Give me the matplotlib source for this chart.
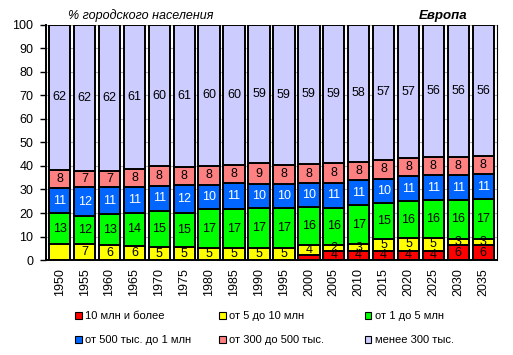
import numpy as np
import matplotlib
matplotlib.use('Agg')
import matplotlib.pyplot as plt
from matplotlib.patches import Rectangle

plt.rcParams['font.family'] = ['Liberation Sans', 'DejaVu Sans']

years = ['1950', '1955', '1960', '1965', '1970', '1975', '1980', '1985', '1990',
         '1995', '2000', '2005', '2010', '2015', '2020', '2025', '2030', '2035']

# доли городского населения по размеру городов, %
s10m = [0, 0, 0, 0, 0, 0, 0, 0, 0, 0, 2.0, 4.0, 3.9, 4.0, 4.0, 4.0, 6.2, 6.2]
s5_10 = [6.9, 6.7, 6.2, 5.8, 5.4, 5.4, 5.1, 5.1, 5.1, 5.1, 4.2, 2.4, 2.8, 4.8, 5.2, 5.2, 2.9, 2.9]
s1_5 = [13.0, 12.0, 13.4, 14.4, 15.3, 14.8, 16.6, 16.6, 17.0, 17.0, 16.2, 15.8, 16.6, 15.3, 15.8, 16.2, 16.4, 16.7]
s500_1 = [10.6, 12.2, 11.3, 10.7, 11.0, 11.6, 10.4, 10.9, 10.1, 10.1, 10.2, 10.6, 10.6, 10.4, 10.6, 10.6, 10.7, 10.8]
s300_500 = [7.9, 6.8, 7.1, 7.7, 8.2, 7.6, 7.9, 7.7, 8.9, 8.4, 8.4, 8.4, 7.9, 8.2, 7.6, 7.7, 7.8, 7.6]
s_less300 = [61.6, 62.3, 62.0, 61.4, 60.1, 60.6, 60.0, 59.7, 58.9, 59.4, 59.0, 58.8, 58.2, 57.3, 56.8, 56.3, 56.0, 55.8]

series = [s10m, s5_10, s1_5, s500_1, s300_500, s_less300]
names = ['10 млн и более', 'от 5 до 10 млн', 'от 1 до 5 млн',
         'от 500 тыс. до 1 млн', 'от 300 до 500 тыс.', 'менее 300 тыс.']
colors = ['#FF0000', '#FFFF00', '#00FF00', '#0066FF', '#FF8080', '#CCCCFF']
txt_colors = ['black', 'black', 'black', 'white', 'black', 'black']
hidden = {(1, 0), (0, 10)}  # подписи, которых нет на исходном рисунке

fig = plt.figure(figsize=(5.13, 3.55), dpi=100)
ax = fig.add_axes([0.0897, 0.2676, 0.879, 0.662])

x = np.arange(len(years))
bottom = np.zeros(len(years))
for i, s in enumerate(series):
    s = np.array(s)
    ax.bar(x, s, 0.86, bottom=bottom, color=colors[i], edgecolor='black',
           linewidth=1.4, zorder=3)
    for j in range(len(years)):
        if s[j] > 0 and (i, j) not in hidden:
            ax.text(x[j], bottom[j] + s[j] / 2, str(int(round(s[j]))),
                    ha='center', va='center', fontsize=9,
                    color=txt_colors[i], zorder=4)
    bottom += s

ax.set_xlim(-0.55, len(years) - 0.45)
ax.set_ylim(0, 100)
ax.set_yticks(range(0, 101, 10))
ax.set_xticks(x)
ax.set_xticklabels(years, rotation=90, fontsize=9)
ax.tick_params(axis='y', labelsize=9, length=4, width=1, direction='out', pad=5)
ax.tick_params(axis='x', length=0, pad=6)
ax.yaxis.grid(True, color='#B0B0B0', linewidth=0.8, zorder=0)
ax.spines['top'].set_visible(False)
ax.spines['left'].set_linewidth(1.4)
ax.spines['bottom'].set_linewidth(1.4)
ax.spines['right'].set_linewidth(0.8)

fig.text(0.133, 0.955, '% городского населения', fontsize=9, style='italic',
         ha='left', va='center')
fig.text(0.912, 0.955, 'Европа', fontsize=9.5, style='italic', weight='bold',
         ha='right', va='center')

# легенда: три колонки по две строки
handles = [Rectangle((0, 0), 1, 1, facecolor=c, edgecolor='black', linewidth=0.8)
           for c in colors]
col_x = [0.146, 0.427, 0.711]
for c in range(3):
    ids = [c, c + 3]
    fig.legend([handles[k] for k in ids], [names[k] for k in ids],
               loc='upper left', bbox_to_anchor=(col_x[c], 0.124), frameon=False,
               fontsize=8, handlelength=0.6, handleheight=0.6, handletextpad=0.3,
               labelspacing=1.3, borderpad=0, borderaxespad=0)

fig.savefig('out.png', dpi=100)
